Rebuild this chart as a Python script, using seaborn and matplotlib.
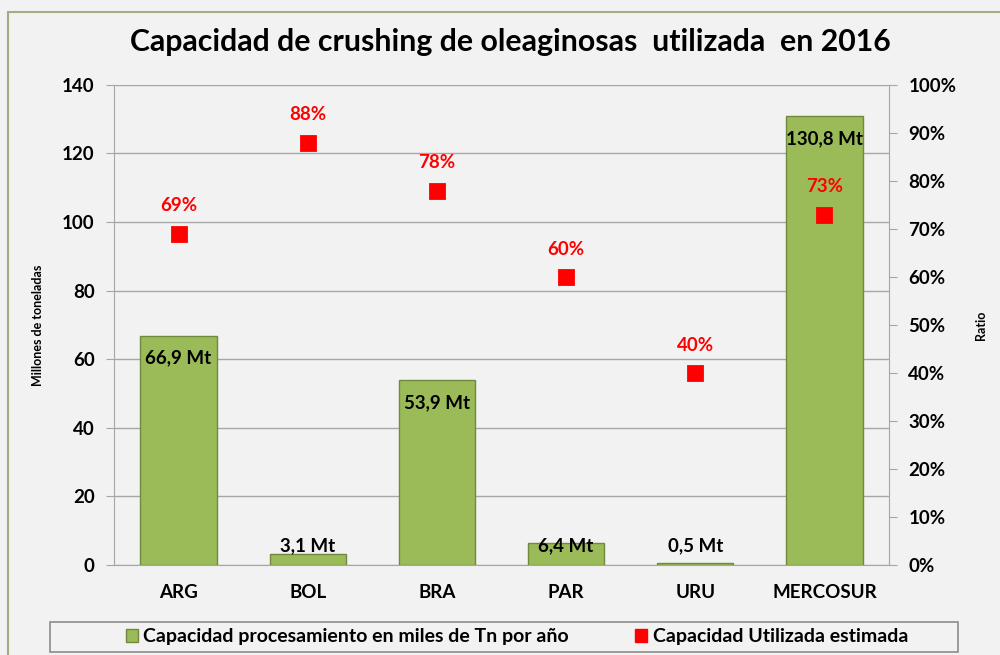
import numpy as np
import matplotlib.pyplot as plt
import seaborn as sns
from matplotlib.patches import Patch, Rectangle

# data
countries = ["ARG", "BOL", "BRA", "PAR", "URU", "MERCOSUR"]
capacity_mt = [66.9, 3.1, 53.9, 6.4, 0.5, 130.8]     # millones de toneladas
used_ratio = [0.69, 0.88, 0.78, 0.60, 0.40, 0.73]     # capacidad utilizada
left_ticks = [0, 20, 40, 60, 80, 100, 120, 140]
right_ticks = [0, 0.1, 0.2, 0.3, 0.4, 0.5, 0.6, 0.7, 0.8, 0.9, 1.0]

bg = "#f2f2f2"
green = "#9bbb59"
green_edge = "#71893f"
grid_gray = "#a6a6a6"

sns.set_style("white")
plt.rcParams["font.family"] = ["Lato", "DejaVu Sans"]
plt.rcParams["text.color"] = "black"
plt.rcParams["xtick.color"] = "black"
plt.rcParams["ytick.color"] = "black"

fig = plt.figure(figsize=(10, 6.55), dpi=100, facecolor=bg)
ax = fig.add_axes([0.114, 0.1374, 0.775, 0.733])
ax.set_facecolor(bg)

# bars - capacity
sns.barplot(x=countries, y=capacity_mt, color=green, saturation=1, width=0.59,
            edgecolor=green_edge, linewidth=1, ax=ax, zorder=3)
ax.set_ylim(0, 140)
ax.set_yticks(left_ticks)
ax.set_xlim(-0.5, len(countries) - 0.5)
ax.yaxis.grid(True, color=grid_gray, linewidth=1)
ax.set_axisbelow(True)

for i, v in enumerate(capacity_mt):
    ax.text(i, max(v - 6.6, 5.5), f"{v:.1f} Mt".replace(".", ","), ha="center", va="center",
            fontsize=13.5, fontweight="bold", color="black", zorder=5)

# markers - ratio on secondary axis
ax2 = ax.twinx()
sns.pointplot(x=countries, y=used_ratio, color="red", markers="s", linestyle="none",
              markersize=10, ax=ax2)
ax2.set_ylim(0, 1.0)
ax2.set_yticks(right_ticks)
ax2.set_yticklabels([f"{int(round(t * 100))}%" for t in right_ticks])
ax2.set_xlim(-0.5, len(countries) - 0.5)
for i, r in enumerate(used_ratio):
    ax2.text(i, r + 0.058, f"{int(round(r * 100))}%", ha="center", va="center",
             fontsize=13.5, fontweight="bold", color="red")

# axes styling
for a in (ax, ax2):
    a.spines["top"].set_visible(False)
    for s in ("left", "right", "bottom"):
        a.spines[s].set_color(grid_gray)
ax.spines["right"].set_visible(False)
ax2.spines["left"].set_visible(False)
ax2.spines["bottom"].set_visible(False)

ax.set_xticks(np.arange(len(countries)))
ax.set_xticklabels(countries, fontsize=13.5, fontweight="bold")
ax.set_xticks(np.arange(len(countries) + 1) - 0.5, minor=True)
ax.tick_params(axis="x", which="major", length=0, pad=14)
ax.tick_params(axis="x", which="minor", length=6, color=grid_gray, direction="out")
ax.tick_params(axis="y", length=6, color=grid_gray, labelcolor="black", direction="out",
               pad=8, labelsize=13.5)
for lbl in ax.get_yticklabels():
    lbl.set_fontweight("bold")
ax2.tick_params(axis="y", length=6, color=grid_gray, labelcolor="black", direction="out",
                pad=8, labelsize=13.5)
for lbl in ax2.get_yticklabels():
    lbl.set_fontweight("bold")
ax.set_xlabel("")
ax2.set_xlabel("")
ax.set_ylabel("")
ax2.set_ylabel("")

fig.text(0.038, 1 - 325 / 655, "Millones de toneladas", rotation=90, ha="center", va="center",
         fontsize=9, fontweight="bold")
fig.text(0.981, 1 - 325 / 655, "Ratio", rotation=90, ha="center", va="center",
         fontsize=9, fontweight="bold")

# title
fig.text(0.51, 1 - 42 / 655, "Capacidad de crushing de oleaginosas  utilizada  en 2016",
         ha="center", va="center", fontsize=21.8, fontweight="bold")

# legend with a separate frame
fig.patches.append(Rectangle((0.05, 0.005), 0.908, 0.046, transform=fig.transFigure,
                             facecolor=bg, edgecolor="#8c8c8c", linewidth=1.2))
handles = [Patch(facecolor=green, edgecolor=green_edge),
           Patch(facecolor="red", edgecolor="red")]
fig.legend(handles, ["Capacidad procesamiento en miles de Tn por año",
                     "Capacidad Utilizada estimada"],
           loc="center", bbox_to_anchor=(0.517, 0.028), ncol=2, frameon=False,
           handlelength=0.6, handleheight=0.7, handletextpad=0.3, columnspacing=3.4,
           prop={"size": 14, "weight": "bold"})

# outer chart frame
fig.patches.append(Rectangle((0.008, -0.1), 1.1, 0.1 + 1 - 12 / 655, transform=fig.transFigure,
                             facecolor="none", edgecolor="#a3ad84", linewidth=1.5))

fig.savefig("out.png", dpi=100, facecolor=bg)
